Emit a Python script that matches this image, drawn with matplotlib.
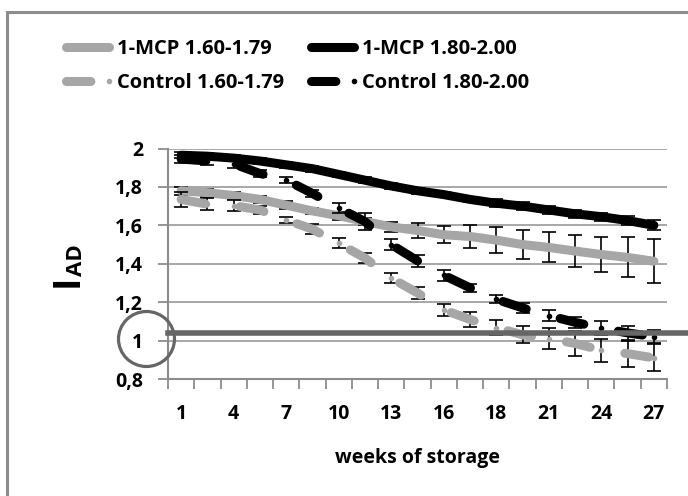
import matplotlib.pyplot as plt
import numpy as np
from matplotlib.patches import Ellipse, Rectangle

plt.rcParams['font.family'] = ['Open Sans', 'DejaVu Sans']
plt.rcParams['font.weight'] = 'bold'

# category axis: 19 storage dates, every second one is labelled
n_cat = 19
week_labels = ['1', '4', '7', '10', '13', '16', '18', '21', '24', '27']

mcp_low = [1.78, 1.77, 1.755, 1.735, 1.705, 1.675, 1.65, 1.62, 1.592, 1.573,
           1.551, 1.542, 1.523, 1.50, 1.485, 1.466, 1.448, 1.433, 1.413]
mcp_low_err = [0.02, 0.02, 0.02, 0.02, 0.02, 0.015, 0.02, 0.02, 0.025, 0.037,
               0.045, 0.058, 0.067, 0.075, 0.078, 0.085, 0.093, 0.104, 0.115]
mcp_high = [1.965, 1.96, 1.95, 1.935, 1.915, 1.895, 1.865, 1.835, 1.805, 1.78,
            1.76, 1.735, 1.715, 1.70, 1.68, 1.66, 1.645, 1.625, 1.60]
mcp_high_err = [0.015, 0.015, 0.015, 0.015, 0.015, 0.015, 0.015, 0.015, 0.015, 0.015,
                0.015, 0.015, 0.02, 0.02, 0.02, 0.02, 0.02, 0.025, 0.026]
ctrl_low = [1.735, 1.71, 1.703, 1.68, 1.628, 1.58, 1.506, 1.43, 1.325, 1.248,
            1.16, 1.11, 1.068, 1.03, 1.01, 0.985, 0.95, 0.932, 0.91]
ctrl_low_err = [0.038, 0.03, 0.028, 0.02, 0.017, 0.027, 0.026, 0.025, 0.025, 0.03,
                0.033, 0.04, 0.04, 0.045, 0.055, 0.065, 0.06, 0.068, 0.07]
ctrl_high = [1.945, 1.935, 1.92, 1.87, 1.836, 1.766, 1.69, 1.62, 1.50, 1.415,
             1.34, 1.275, 1.215, 1.17, 1.13, 1.095, 1.065, 1.04, 1.02]
ctrl_high_err = [0.02, 0.02, 0.02, 0.02, 0.017, 0.02, 0.025, 0.042, 0.03, 0.03,
                 0.03, 0.02, 0.02, 0.025, 0.03, 0.03, 0.035, 0.038, 0.035]

x = np.arange(n_cat)

fig = plt.figure(figsize=(6.88, 4.96), dpi=100)
ax = fig.add_axes([168 / 688, 1 - 379 / 496, 499 / 688, 230.5 / 496])

lw = 6.5
dash = (0, (2.7, 3.9))
series = [
    (mcp_low, mcp_low_err, '#a6a6a6', '-', '1-MCP 1.60-1.79'),
    (mcp_high, mcp_high_err, '#000000', '-', '1-MCP 1.80-2.00'),
    (ctrl_low, ctrl_low_err, '#a6a6a6', dash, 'Control 1.60-1.79'),
    (ctrl_high, ctrl_high_err, '#000000', dash, 'Control 1.80-2.00'),
]
handles = []
for i, (y, err, col, ls, lab) in enumerate(series):
    ax.errorbar(x, y, yerr=err, fmt='none', ecolor='black', elinewidth=1.2,
                capsize=5, capthick=1.2, zorder=3 + i * 2)
    mk = 'o' if ls != '-' else None
    ln, = ax.plot(x, y, color=col, lw=lw, linestyle=ls, marker=mk, markersize=3,
                  solid_capstyle='round', dash_capstyle='round',
                  solid_joinstyle='round', label=lab, zorder=4 + i * 2)
    handles.append(ln)

# reference line at 1 and its marker circle
ax.plot([-0.5, 22], [1.042, 1.042], color='#666666', lw=4, clip_on=False, zorder=20)
fig.add_artist(Ellipse((146.5 / 688, 1 - 339 / 496), 56 / 688, 55 / 496,
                       transform=fig.transFigure, fill=False,
                       edgecolor='#666666', lw=2.3))
# outer chart frame
fig.add_artist(Rectangle((7 / 688, -0.2), 1.2, 1.2 - 12 / 496,
                         transform=fig.transFigure, fill=False,
                         edgecolor='#8c8c8c', lw=2.2))

ax.set_xlim(-0.5, n_cat - 0.5)
ax.set_ylim(0.8, 2.0)
ax.set_yticks(np.arange(0.8, 2.01, 0.2))
ax.set_yticklabels(['0,8', '1', '1,2', '1,4', '1,6', '1,8', '2'])
ax.set_xticks(x[::2])
ax.set_xticklabels(week_labels)
ax.set_xticks(np.arange(-0.5, n_cat, 1), minor=True)
ax.tick_params(axis='x', which='major', length=0, pad=18, labelsize=14)
ax.tick_params(axis='x', which='minor', length=7, width=1.3, color='#8c8c8c')
ax.tick_params(axis='y', length=7, width=1.3, color='#8c8c8c', pad=11, labelsize=14)
ax.grid(axis='y', color='#a0a0a0', lw=1.3)
ax.set_axisbelow(True)
for s in ['top', 'right']:
    ax.spines[s].set_visible(False)
for s in ['left', 'bottom']:
    ax.spines[s].set_color('#8c8c8c')
    ax.spines[s].set_linewidth(1.5)

ax.set_xlabel('weeks of storage', fontsize=14, fontweight='bold', labelpad=17)

fig.text(87 / 688, 1 - 287 / 496, 'I', rotation=90, ha='right', va='bottom',
         fontsize=27)
fig.text(87 / 688, 1 - 276 / 496, 'AD', rotation=90, ha='right', va='bottom',
         fontsize=16)

order = [0, 2, 1, 3]
fig.legend([handles[k] for k in order], [handles[k].get_label() for k in order],
           ncol=2, loc='upper left', bbox_to_anchor=(50 / 688, 1 - 29 / 496),
           frameon=False, fontsize=14.5, handlelength=2.75, handletextpad=0.1,
           columnspacing=1.0, labelspacing=0.7, numpoints=2, borderpad=0)

fig.savefig('out.png', dpi=100)
